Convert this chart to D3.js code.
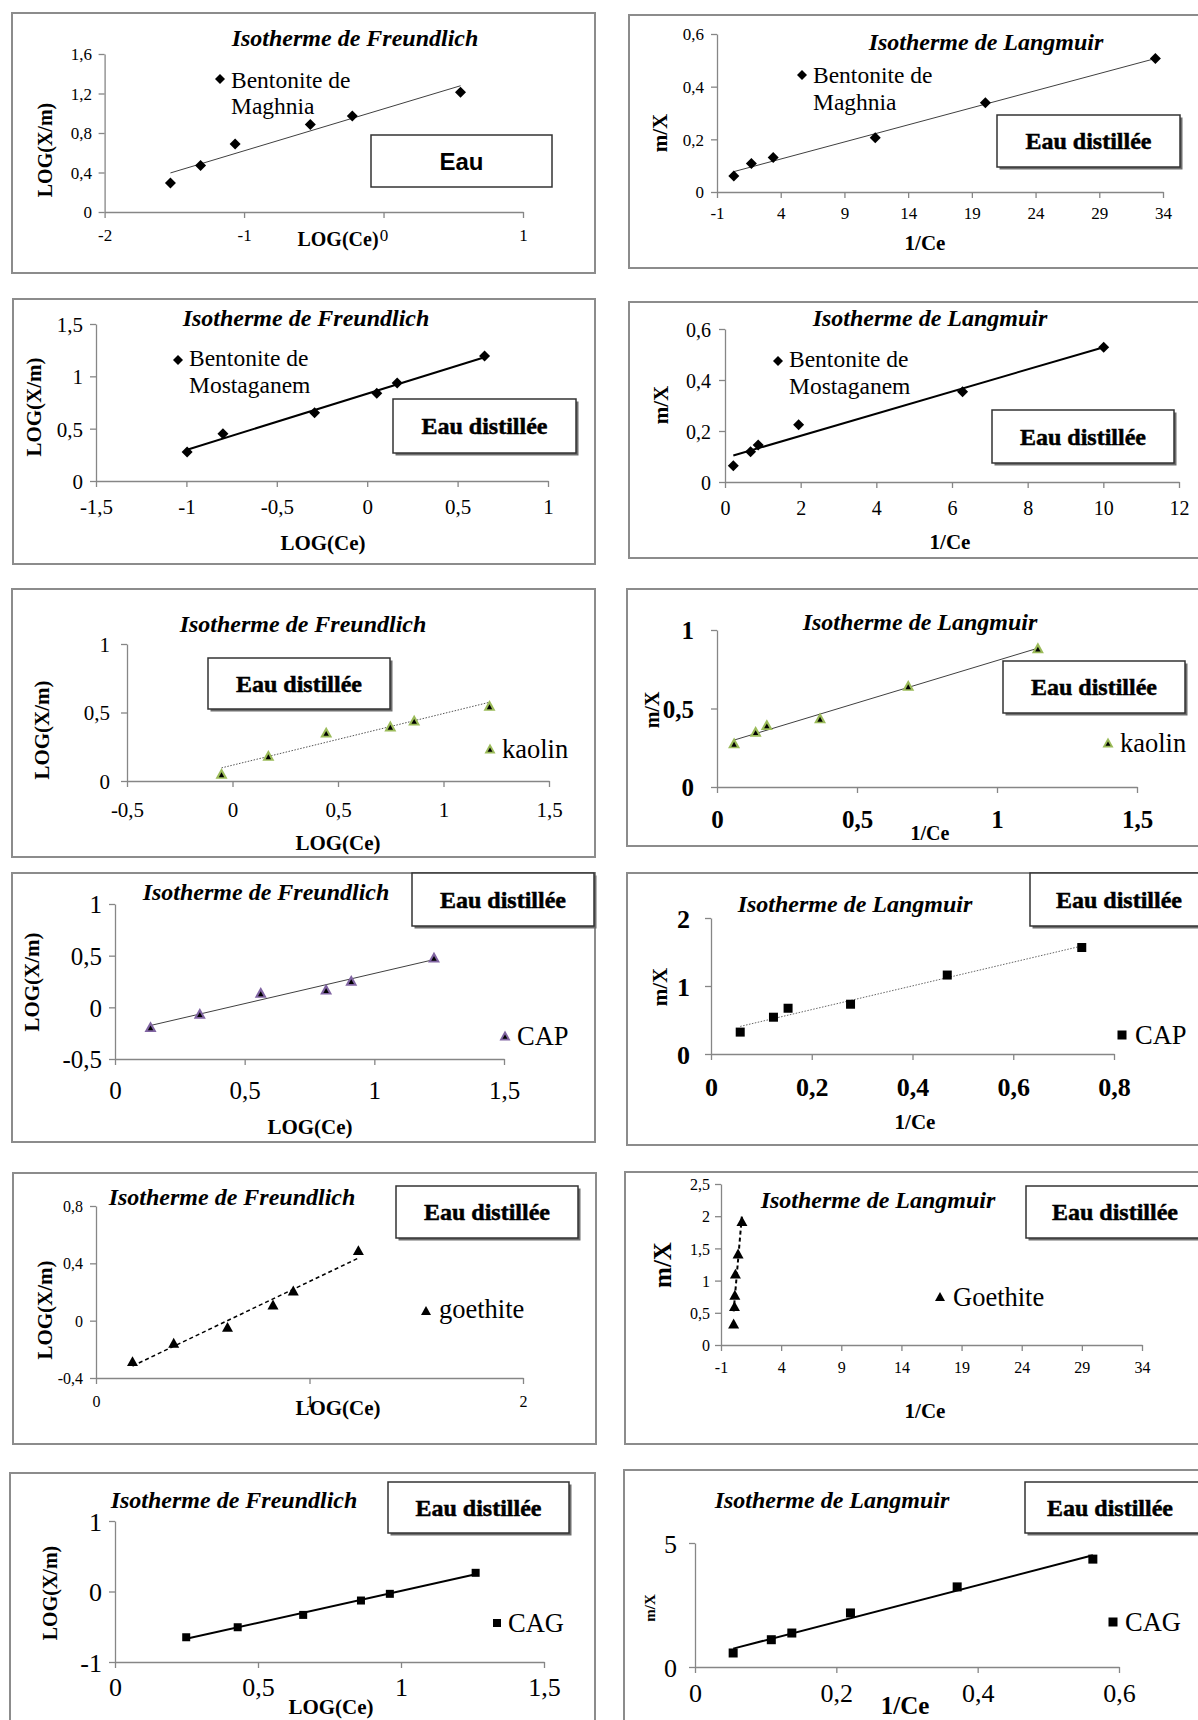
<!DOCTYPE html>
<html>
<head>
<meta charset="utf-8">
<script src="https://cdn.jsdelivr.net/npm/d3@7"></script>
<style>
  html, body { margin: 0; padding: 0; background: #fff; }
  svg { display: block; }
</style>
</head>
<body>
<svg id="fig" width="1198" height="1720"></svg>
<script>
// ---------- measured isotherm data ----------
// Bentonite de Maghnia
const maghniaLogCe = [-1.528, -1.312, -1.064, -0.525, -0.224, 0.552];
const maghniaLogXm = [0.294, 0.470, 0.689, 0.885, 0.973, 1.213];
const maghniaInvCe = [0.32, 1.70, 3.41, 11.42, 20.06, 33.40];
const maghniaMX    = [0.061, 0.108, 0.131, 0.206, 0.339, 0.507];
// Bentonite de Mostaganem
const mostaLogCe = [-0.996, -0.798, -0.291, 0.053, 0.166, 0.649];
const mostaLogXm = [0.277, 0.452, 0.653, 0.838, 0.936, 1.194];
const mostaInvCe = [0.22, 0.676, 0.877, 1.946, 6.28, 10.01];
const mostaMX    = [0.064, 0.119, 0.145, 0.225, 0.354, 0.528];
// kaolin
const kaolinLogCe = [-0.052, 0.170, 0.444, 0.748, 0.861, 1.218];
const kaolinLogXm = [0.051, 0.182, 0.353, 0.397, 0.440, 0.547];
const kaolinInvCe = [0.061, 0.138, 0.178, 0.368, 0.683, 1.146];
const kaolinMX    = [0.277, 0.351, 0.394, 0.436, 0.643, 0.883];
// CAP
const capLogCe = [0.137, 0.327, 0.562, 0.814, 0.911, 1.230];
const capLogXm = [-0.192, -0.064, 0.138, 0.170, 0.256, 0.481];
const capInvCe = [0.058, 0.124, 0.153, 0.277, 0.469, 0.736];
const capMX    = [0.322, 0.541, 0.673, 0.732, 1.161, 1.566];
// goethite
const goethiteLogCe = [0.171, 0.364, 0.616, 0.829, 0.924, 1.229];
const goethiteLogXm = [-0.286, -0.158, -0.047, 0.109, 0.207, 0.488];
const goethiteInvCe = [0.05, 0.12, 0.15, 0.20, 0.42, 0.74];
const goethiteMX    = [0.326, 0.595, 0.771, 1.10, 1.413, 1.915];
// CAG
const cagLogCe = [0.249, 0.429, 0.658, 0.860, 0.961, 1.261];
const cagLogXm = [-0.649, -0.507, -0.332, -0.128, -0.033, 0.265];
const cagInvCe = [0.054, 0.108, 0.137, 0.220, 0.371, 0.563];
const cagMX    = [0.565, 1.10, 1.37, 2.18, 3.23, 4.35];

// ---------- tick values ----------
const ticksX1 = [-2, -1, 0, 1];
const ticksY1 = [0, 0.4, 0.8, 1.2, 1.6];
const ticksInvCeWide = [-1, 4, 9, 14, 19, 24, 29, 34];
const ticksMX06 = [0, 0.2, 0.4, 0.6];
const ticksX3 = [-1.5, -1, -0.5, 0, 0.5, 1];
const ticksY3 = [0, 0.5, 1, 1.5];
const ticksX4 = [0, 2, 4, 6, 8, 10, 12];
const ticksX5 = [-0.5, 0, 0.5, 1, 1.5];
const ticksY01 = [0, 0.5, 1];
const ticksX015 = [0, 0.5, 1, 1.5];
const ticksY7 = [-0.5, 0, 0.5, 1];
const ticksX8 = [0, 0.2, 0.4, 0.6, 0.8];
const ticksY8 = [0, 1, 2];
const ticksX9 = [0, 1, 2];
const ticksY9 = [-0.4, 0, 0.4, 0.8];
const ticksY10 = [0, 0.5, 1, 1.5, 2, 2.5];
const ticksY11 = [-1, 0, 1];
const ticksX12 = [0, 0.2, 0.4, 0.6];
const ticksY12 = [0, 5];

// ---------- text ----------
const titleF = "Isotherme de Freundlich";
const titleL = "Isotherme de Langmuir";
const boxText = "Eau distillée";

const SERIF = "'Liberation Serif','Times New Roman',serif";
const SANS = "'Liberation Sans',Arial,sans-serif";
const fmt = v => String(+v.toFixed(2)).replace(".", ",");

// ---------- panel layout ----------
const panels = [
  { frame: [12, 13, 595, 273], plot: [104.6, 523, 212, 54],
    xDomain: [-2, 1], yDomain: [0, 1.6], xTicks: ticksX1, yTicks: ticksY1,
    tick: { size: 17, bold: false, xOff: 23, yGap: 12.6 },
    title: { text: titleF, x: 355, y: 46 },
    yTitle: { text: "LOG(X/m)", x: 45, y: 150, size: 20 },
    xTitle: { text: "LOG(Ce)", x: 338, y: 239, size: 20 },
    xs: maghniaLogCe, ys: maghniaLogXm, marker: "diamond", msize: 11,
    trend: { w: 1, color: "#404040", dash: null },
    legend: { mx: 220, my: 79, msize: 10, tx: 231, size: 23.5, lines: ["Bentonite de", "Maghnia"], ys: [88, 114] },
    box: { rect: [371, 135, 552, 187], text: "Eau", sans: true } },

  { frame: [629, 15, 1210, 268], plot: [717, 1163, 192, 34],
    xDomain: [-1, 34], yDomain: [0, 0.6], xTicks: ticksInvCeWide, yTicks: ticksMX06,
    tick: { size: 17, bold: false, xOff: 21, yGap: 13 },
    title: { text: titleL, x: 986, y: 50 },
    yTitle: { text: "m/X", x: 660, y: 133, size: 21 },
    xTitle: { text: "1/Ce", x: 925, y: 243, size: 21 },
    xs: maghniaInvCe, ys: maghniaMX, marker: "diamond", msize: 11,
    trend: { w: 1, color: "#404040", dash: null },
    legend: { mx: 802, my: 75, msize: 10, tx: 813, size: 23.5, lines: ["Bentonite de", "Maghnia"], ys: [83, 110] },
    box: { rect: [997, 115, 1180, 167], text: boxText } },

  { frame: [13, 299, 595, 564], plot: [96, 548, 481, 324],
    xDomain: [-1.5, 1], yDomain: [0, 1.5], xTicks: ticksX3, yTicks: ticksY3,
    tick: { size: 21, bold: false, xOff: 26, yGap: 13 },
    title: { text: titleF, x: 306, y: 326 },
    yTitle: { text: "LOG(X/m)", x: 34, y: 407, size: 21 },
    xTitle: { text: "LOG(Ce)", x: 323, y: 543, size: 21 },
    xs: mostaLogCe, ys: mostaLogXm, marker: "diamond", msize: 11,
    trend: { w: 2, color: "#000", dash: null },
    legend: { mx: 178, my: 360, msize: 10, tx: 189, size: 23.5, lines: ["Bentonite de", "Mostaganem"], ys: [366, 393] },
    box: { rect: [393, 399, 576, 453], text: boxText } },

  { frame: [629, 302, 1210, 558], plot: [725, 1179, 482, 329],
    xDomain: [0, 12], yDomain: [0, 0.6], xTicks: ticksX4, yTicks: ticksMX06,
    tick: { size: 20, bold: false, xOff: 26, yGap: 14 },
    title: { text: titleL, x: 930, y: 326 },
    yTitle: { text: "m/X", x: 661, y: 405, size: 21 },
    xTitle: { text: "1/Ce", x: 950, y: 542, size: 21 },
    xs: mostaInvCe, ys: mostaMX, marker: "diamond", msize: 11,
    trend: { w: 2, color: "#000", dash: null },
    legend: { mx: 778, my: 361, msize: 10, tx: 789, size: 23.5, lines: ["Bentonite de", "Mostaganem"], ys: [367, 394] },
    box: { rect: [992, 410, 1174, 463], text: boxText } },

  { frame: [12, 589, 595, 857], plot: [127, 549, 781, 644],
    xDomain: [-0.5, 1.5], yDomain: [0, 1], xTicks: ticksX5, yTicks: ticksY01,
    tick: { size: 21, bold: false, xOff: 29, yGap: 17 },
    title: { text: titleF, x: 303, y: 632 },
    yTitle: { text: "LOG(X/m)", x: 42, y: 730, size: 21 },
    xTitle: { text: "LOG(Ce)", x: 338, y: 843, size: 21 },
    xs: kaolinLogCe, ys: kaolinLogXm, marker: "triGreen", msize: 12,
    trend: { w: 1, color: "#555", dash: "1.5,1.5" },
    legend: { mx: 490, my: 749, msize: 11, tx: 502, size: 26.5, lines: ["kaolin"], ys: [758] },
    box: { rect: [208, 658, 390, 709], text: boxText } },

  { frame: [627, 589, 1210, 846], plot: [717, 1137, 787, 630],
    xDomain: [0, 1.5], yDomain: [0, 1], xTicks: ticksX015, yTicks: ticksY01,
    tick: { size: 25, bold: true, xOff: 32, yGap: 23 },
    title: { text: titleL, x: 920, y: 630 },
    yTitle: { text: "m/X", x: 652, y: 710, size: 20 },
    xTitle: { text: "1/Ce", x: 930, y: 833, size: 20 },
    xs: kaolinInvCe, ys: kaolinMX, marker: "triGreen", msize: 12,
    trend: { w: 1, color: "#404040", dash: null },
    legend: { mx: 1108, my: 743, msize: 11, tx: 1120, size: 26.5, lines: ["kaolin"], ys: [752] },
    box: { rect: [1003, 661, 1185, 713], text: boxText } },

  { frame: [12, 873, 595, 1142], plot: [115, 504, 1059, 904],
    xDomain: [0, 1.5], yDomain: [-0.5, 1], xTicks: ticksX015, yTicks: ticksY7,
    tick: { size: 25, bold: false, xOff: 31, yGap: 13 },
    title: { text: titleF, x: 266, y: 900 },
    yTitle: { text: "LOG(X/m)", x: 31.5, y: 982, size: 21 },
    xTitle: { text: "LOG(Ce)", x: 310, y: 1127, size: 21 },
    xs: capLogCe, ys: capLogXm, marker: "triPurple", msize: 12,
    trend: { w: 1, color: "#404040", dash: null },
    legend: { mx: 505, my: 1036, msize: 11, tx: 517, size: 26.5, lines: ["CAP"], ys: [1045] },
    box: { rect: [412, 873, 594, 926], text: boxText } },

  { frame: [627, 873, 1210, 1145], plot: [711, 1114, 1054, 918],
    xDomain: [0, 0.8], yDomain: [0, 2], xTicks: ticksX8, yTicks: ticksY8,
    tick: { size: 26, bold: true, xOff: 33, yGap: 21 },
    title: { text: titleL, x: 855, y: 912 },
    yTitle: { text: "m/X", x: 660, y: 987, size: 21 },
    xTitle: { text: "1/Ce", x: 915, y: 1122, size: 21 },
    xs: capInvCe, ys: capMX, marker: "square", msize: 9,
    trend: { w: 1, color: "#666", dash: "1.5,1.5" },
    legend: { mx: 1122, my: 1035, msize: 9, tx: 1135, size: 26.5, lines: ["CAP"], ys: [1044] },
    box: { rect: [1030, 873, 1215, 926], text: boxText, tx: 1119 } },

  { frame: [13, 1173, 596, 1444], plot: [96, 523, 1378, 1206],
    xDomain: [0, 2], yDomain: [-0.4, 0.8], xTicks: ticksX9, yTicks: ticksY9,
    tick: { size: 16, bold: false, xOff: 23, yGap: 13 },
    title: { text: titleF, x: 232, y: 1205 },
    yTitle: { text: "LOG(X/m)", x: 45, y: 1310, size: 21 },
    xTitle: { text: "LOG(Ce)", x: 338, y: 1408, size: 21 },
    xs: goethiteLogCe, ys: goethiteLogXm, marker: "triangle", msize: 11,
    trend: { w: 1.5, color: "#000", dash: "4,3" },
    legend: { mx: 426, my: 1311, msize: 10, tx: 439, size: 26.5, lines: ["goethite"], ys: [1318] },
    box: { rect: [396, 1186, 578, 1238], text: boxText } },

  { frame: [625, 1172, 1210, 1444], plot: [721, 1142, 1345, 1184],
    xDomain: [-1, 34], yDomain: [0, 2.5], xTicks: ticksInvCeWide, yTicks: ticksY10,
    tick: { size: 16, bold: false, xOff: 22, yGap: 11 },
    title: { text: titleL, x: 878, y: 1208 },
    yTitle: { text: "m/X", x: 662, y: 1265, size: 25 },
    xTitle: { text: "1/Ce", x: 925, y: 1411, size: 21 },
    xs: goethiteInvCe, ys: goethiteMX, marker: "triangle", msize: 11,
    trend: { w: 2, color: "#000", dash: "4,3" },
    legend: { mx: 940, my: 1297, msize: 10, tx: 953, size: 26.5, lines: ["Goethite"], ys: [1306] },
    box: { rect: [1026, 1186, 1215, 1238], text: boxText, tx: 1115 } },

  { frame: [10, 1473, 595, 1730], plot: [115, 544, 1662, 1521],
    xDomain: [0, 1.5], yDomain: [-1, 1], xTicks: ticksX015, yTicks: ticksY11,
    tick: { size: 26, bold: false, xOff: 25, yGap: 13 },
    title: { text: titleF, x: 234, y: 1508 },
    yTitle: { text: "LOG(X/m)", x: 50, y: 1593, size: 20 },
    xTitle: { text: "LOG(Ce)", x: 331, y: 1707, size: 21 },
    xs: cagLogCe, ys: cagLogXm, marker: "square", msize: 8,
    trend: { w: 2, color: "#000", dash: null },
    legend: { mx: 497, my: 1623, msize: 8, tx: 508, size: 26.5, lines: ["CAG"], ys: [1632] },
    box: { rect: [388, 1482, 569, 1533], text: boxText } },

  { frame: [624, 1470, 1210, 1730], plot: [695, 1119, 1667, 1543],
    xDomain: [0, 0.6], yDomain: [0, 5], xTicks: ticksX12, yTicks: ticksY12,
    tick: { size: 26, bold: false, xOff: 26, yGap: 18 },
    title: { text: titleL, x: 832, y: 1508 },
    yTitle: { text: "m/X", x: 650, y: 1608, size: 15 },
    xTitle: { text: "1/Ce", x: 905, y: 1705, size: 25 },
    xs: cagInvCe, ys: cagMX, marker: "square", msize: 9,
    trend: { w: 2, color: "#000", dash: null },
    legend: { mx: 1113, my: 1622, msize: 9, tx: 1125, size: 26.5, lines: ["CAG"], ys: [1631] },
    box: { rect: [1025, 1482, 1215, 1533], text: boxText, tx: 1110 } }
];

const svg = d3.select("#fig");
svg.append("rect").attr("width", 1198).attr("height", 1720).attr("fill", "#fff");

// least-squares line through a series
function linearFit(xs, ys) {
  const mx = d3.mean(xs), my = d3.mean(ys);
  let sxy = 0, sxx = 0;
  xs.forEach((xv, i) => { sxy += (xv - mx) * (ys[i] - my); sxx += (xv - mx) * (xv - mx); });
  const b = sxy / sxx;
  return xv => my + b * (xv - mx);
}

// marker shapes used in the series and legends
function drawMarker(g, type, size) {
  const r = size / 2;
  const tri = s => `M0,${-s / 2}L${s / 2},${s * 0.4}L${-s / 2},${s * 0.4}Z`;
  if (type === "diamond") {
    g.append("path").attr("d", `M0,${-r}L${r},0L0,${r}L${-r},0Z`).attr("fill", "#000");
  } else if (type === "square") {
    g.append("rect").attr("x", -r).attr("y", -r).attr("width", size).attr("height", size).attr("fill", "#000");
  } else if (type === "triangle") {
    g.append("path").attr("d", tri(size)).attr("fill", "#000");
  } else {
    const col = type === "triGreen" ? "#9bbb59" : "#8064a2";
    g.append("path").attr("d", tri(size)).attr("fill", col);
    g.append("path").attr("d", tri(size * 0.45)).attr("fill", "#000").attr("transform", `translate(0,${size * 0.08})`);
  }
}

function drawPanel(p) {
  const g = svg.append("g");
  const [fx0, fy0, fx1, fy1] = p.frame;
  g.append("rect").attr("x", fx0).attr("y", fy0).attr("width", fx1 - fx0).attr("height", fy1 - fy0)
    .attr("fill", "#fff").attr("stroke", "#8c8c8c").attr("stroke-width", 2);

  const x = d3.scaleLinear().domain(p.xDomain).range([p.plot[0], p.plot[1]]);
  const y = d3.scaleLinear().domain(p.yDomain).range([p.plot[2], p.plot[3]]);
  const t = p.tick;

  const styleAxis = (ag) => {
    ag.attr("font-family", SERIF).attr("font-size", t.size).attr("font-weight", t.bold ? "bold" : "normal");
    ag.selectAll(".domain, .tick line").attr("stroke", "#868686").attr("stroke-width", 1.3);
    ag.selectAll("text").attr("fill", "#000");
  };

  const xa = g.append("g").attr("transform", `translate(0,${p.plot[2]})`)
    .call(d3.axisBottom(x).tickValues(p.xTicks).tickFormat(fmt).tickSizeInner(6).tickSizeOuter(0));
  styleAxis(xa);
  xa.selectAll("text").attr("y", t.xOff).attr("dy", "0.35em");

  const ya = g.append("g").attr("transform", `translate(${p.plot[0]},0)`)
    .call(d3.axisLeft(y).tickValues(p.yTicks).tickFormat(fmt).tickSizeInner(6).tickSizeOuter(0));
  styleAxis(ya);
  ya.selectAll("text").attr("x", -t.yGap).attr("dy", "0.35em");

  // trendline over the data range
  const f = linearFit(p.xs, p.ys);
  const [xmin, xmax] = d3.extent(p.xs);
  g.append("line")
    .attr("x1", x(xmin)).attr("y1", y(f(xmin)))
    .attr("x2", x(xmax)).attr("y2", y(f(xmax)))
    .attr("stroke", p.trend.color).attr("stroke-width", p.trend.w)
    .attr("stroke-dasharray", p.trend.dash);

  // points
  p.xs.forEach((xv, i) => {
    const mg = g.append("g").attr("transform", `translate(${x(xv)},${y(p.ys[i])})`);
    drawMarker(mg, p.marker, p.msize);
  });

  // title
  g.append("text").attr("x", p.title.x).attr("y", p.title.y).attr("text-anchor", "middle")
    .attr("font-family", SERIF).attr("font-size", 24).attr("font-weight", "bold").attr("font-style", "italic")
    .text(p.title.text);

  // axis titles
  g.append("text").attr("transform", `translate(${p.yTitle.x},${p.yTitle.y}) rotate(-90)`)
    .attr("text-anchor", "middle").attr("dominant-baseline", "central")
    .attr("font-family", SERIF).attr("font-size", p.yTitle.size).attr("font-weight", "bold")
    .text(p.yTitle.text);
  g.append("text").attr("x", p.xTitle.x).attr("y", p.xTitle.y)
    .attr("text-anchor", "middle").attr("dominant-baseline", "central")
    .attr("font-family", SERIF).attr("font-size", p.xTitle.size).attr("font-weight", "bold")
    .text(p.xTitle.text);

  // legend
  const lg = g.append("g").attr("transform", `translate(${p.legend.mx},${p.legend.my})`);
  drawMarker(lg, p.marker, p.legend.msize);
  p.legend.lines.forEach((ln, i) => {
    g.append("text").attr("x", p.legend.tx).attr("y", p.legend.ys[i])
      .attr("font-family", SERIF).attr("font-size", p.legend.size).text(ln);
  });

  // annotation box
  const [bx0, by0, bx1, by1] = p.box.rect;
  if (!p.box.sans) {
    g.append("rect").attr("x", bx0 + 2.5).attr("y", by0 + 2.5).attr("width", bx1 - bx0).attr("height", by1 - by0)
      .attr("fill", "#6e6e6e");
  }
  g.append("rect").attr("x", bx0).attr("y", by0).attr("width", bx1 - bx0).attr("height", by1 - by0)
    .attr("fill", "#fff").attr("stroke", "#333").attr("stroke-width", 1.5);
  const tx = p.box.tx !== undefined ? p.box.tx : (bx0 + bx1) / 2;
  const bt = g.append("text").attr("x", tx).attr("y", (by0 + by1) / 2)
    .attr("text-anchor", "middle").attr("dominant-baseline", "central")
    .attr("font-weight", "bold").text(p.box.text);
  if (p.box.sans) {
    bt.attr("font-family", SANS).attr("font-size", 24);
  } else {
    bt.attr("font-family", SERIF).attr("font-size", 24)
      .attr("stroke", "#000").attr("stroke-width", 0.5);
  }
}

panels.forEach(drawPanel);
</script>
</body>
</html>
